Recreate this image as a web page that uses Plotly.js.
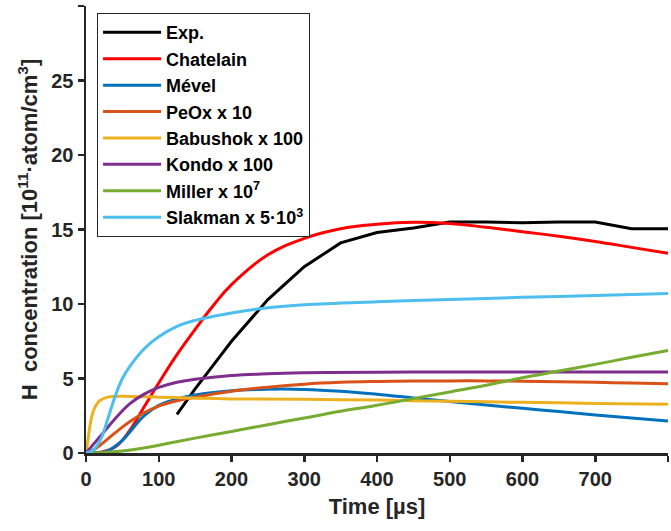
<!DOCTYPE html>
<html>
<head>
<meta charset="utf-8">
<script src="https://cdn.plot.ly/plotly-3.0.1.min.js"></script>
<style>html,body{margin:0;padding:0;background:#fff;}#chart{width:671px;height:531px;}</style>
</head>
<body>
<div id="chart"></div>
<script>
// Experimental data
const expT = [125,150,175,200,250,300,350,400,450,500,550,600,650,700,750,800];
const expV = [2.6,4.3,5.9,7.5,10.3,12.5,14.1,14.8,15.1,15.5,15.5,15.45,15.5,15.5,15.05,15.05];

// Chatelain
const chatT = [0,20,40,60,80,100,125,150,175,200,250,300,350,400,450,500,550,600,650,700,750,800];
const chatV = [0,0.05,0.4,1.5,3.1,4.7,6.6,8.3,9.9,11.3,13.3,14.4,15.05,15.35,15.48,15.4,15.15,14.85,14.55,14.2,13.8,13.4];

// Mevel
const mevT = [0,20,30,40,50,60,80,100,125,150,200,250,300,350,400,450,500,550,600,650,700,750,800];
const mevV = [0,0.03,0.15,0.45,0.85,1.4,2.5,3.2,3.62,3.9,4.18,4.28,4.27,4.15,3.95,3.7,3.45,3.22,3.0,2.78,2.55,2.35,2.15];

// PeOx x 10
const peoxT = [0,10,20,30,40,60,80,100,125,150,200,250,300,350,400,450,500,550,600,650,700,750,800];
const peoxV = [0,0.2,0.55,0.95,1.35,2.1,2.7,3.15,3.5,3.75,4.15,4.42,4.62,4.74,4.8,4.83,4.84,4.84,4.82,4.78,4.74,4.7,4.65];

// Babushok x 100
const babT = [0,3,6,10,15,20,30,40,60,100,150,200,300,400,500,600,700,800];
const babV = [0,1.0,2.0,2.8,3.3,3.55,3.75,3.8,3.8,3.75,3.68,3.63,3.6,3.55,3.47,3.4,3.33,3.27];

// Kondo x 100
const konT = [0,20,40,60,80,100,125,150,200,250,300,400,500,600,700,800];
const konV = [0,1.15,2.3,3.3,3.95,4.4,4.75,4.95,5.2,5.32,5.38,5.42,5.43,5.43,5.43,5.43];

// Miller x 10^7
const milT = [0,25,50,75,100,150,200,250,300,350,400,450,500,550,600,650,700,750,800];
const milV = [0,0.03,0.13,0.3,0.52,1.0,1.45,1.9,2.35,2.8,3.2,3.65,4.1,4.55,5.05,5.5,5.95,6.42,6.88];

// Slakman x 5e3
const slaT = [0,10,20,30,40,50,60,80,100,125,150,200,250,300,400,500,600,700,800];
const slaV = [0,0.2,0.9,2.3,3.8,5.0,5.8,7.0,7.8,8.5,8.9,9.4,9.75,9.95,10.15,10.3,10.45,10.57,10.7];

const names = ['Exp.','Chatelain','Mével','PeOx x 10','Babushok x 100','Kondo x 100','Miller x 10<sup>7</sup>','Slakman x 5·10<sup>3</sup>'];
const colors = ['#000000','#FF0000','#0072BD','#D95319','#EDB120','#7E2F8E','#77AC30','#4DBEEE'];
const xs = [expT,chatT,mevT,peoxT,babT,konT,milT,slaT];
const ys = [expV,chatV,mevV,peoxV,babV,konV,milV,slaV];

const xTicks = [0,100,200,300,400,500,600,700,800];
const xTickText = ['0','100','200','300','400','500','600','700',''];
const yTicks = [0,5,10,15,20,25,30];
const yTickText = ['0','5','10','15','20','25',''];

const traces = names.map((n,i)=>({
  x: xs[i], y: ys[i], name: n, type: 'scatter', mode: 'lines',
  line: {color: colors[i], width: 3, shape: i===0 ? 'linear' : 'spline', smoothing: 1.2},
  cliponaxis: true
}));

const layout = {
  width: 671, height: 531,
  margin: {l: 86, r: 3, t: 6, b: 78},
  paper_bgcolor: '#fff', plot_bgcolor: '#fff',
  font: {family: '"Liberation Sans", Arial, sans-serif', size: 20, color: '#262626', weight: 700},
  showlegend: true,
  legend: {
    x: 0.019, y: 0.984, xanchor: 'left', yanchor: 'top',
    bgcolor: '#fff', bordercolor: '#262626', borderwidth: 1,
    font: {size: 18, color: '#000', weight: 700},
    itemwidth: 58, tracegroupgap: 0
  },
  xaxis: {
    range: [0, 800], tickvals: xTicks, ticktext: xTickText,
    showline: true, linecolor: '#262626', linewidth: 2.5,
    ticks: 'outside', ticklen: 6, tickwidth: 2.5, tickcolor: '#262626',
    showgrid: false, zeroline: false,
    title: {text: 'Time [µs]', font: {size: 22, weight: 700}, standoff: 10}
  },
  yaxis: {
    range: [0, 30], tickvals: yTicks, ticktext: yTickText,
    showline: true, linecolor: '#262626', linewidth: 2.5,
    ticks: 'outside', ticklen: 6, tickwidth: 2.5, tickcolor: '#262626',
    showgrid: false, zeroline: false,
    title: {text: 'H  concentration [10<sup>11</sup>·atom/cm<sup>3</sup>]', font: {size: 22, weight: 700}, standoff: 8}
  }
};

Plotly.newPlot('chart', traces, layout, {displayModeBar: false, staticPlot: true});
</script>
</body>
</html>
